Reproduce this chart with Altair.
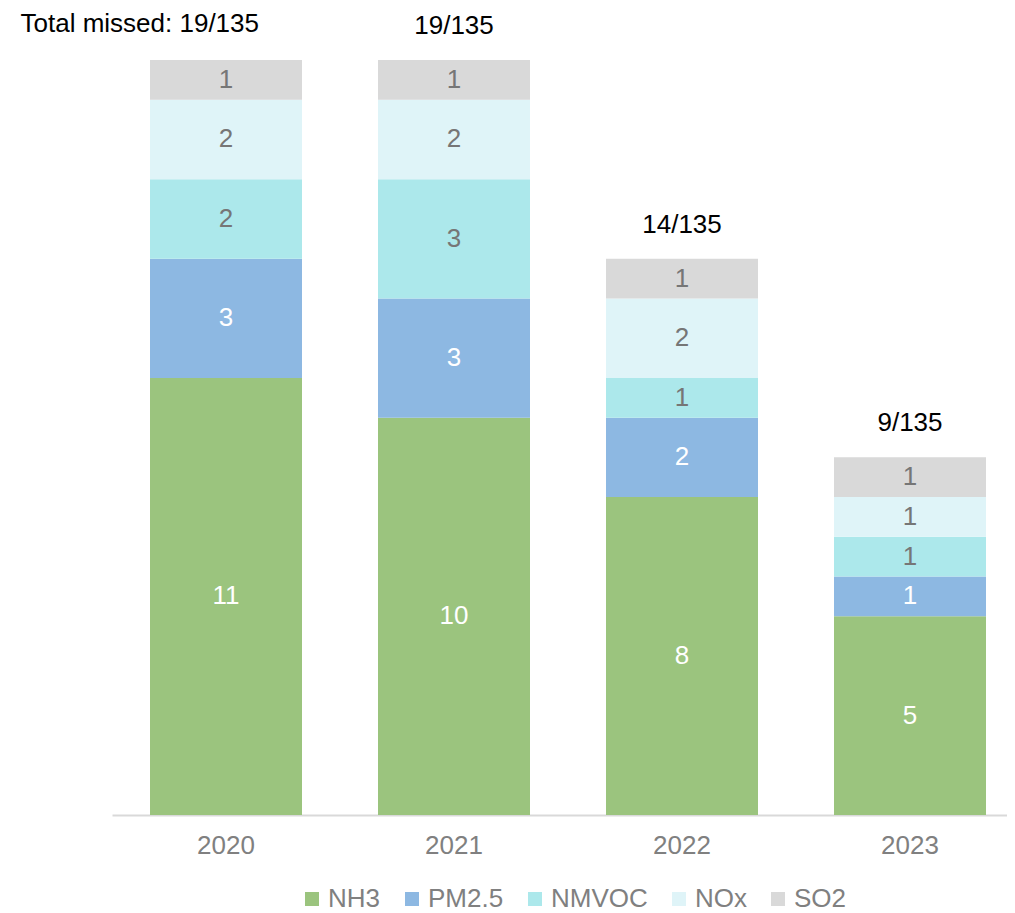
import altair as alt
import pandas as pd

years = ["2020", "2021", "2022", "2023"]
pollutants = ["NH3", "PM2.5", "NMVOC", "NOx", "SO2"]
colors = ["#9BC47E", "#8DB8E2", "#ACE8EB", "#DFF4F8", "#D9D9D9"]
nh3 = [11, 10, 8, 5]
pm25 = [3, 3, 2, 1]
nmvoc = [2, 3, 1, 1]
nox = [2, 2, 2, 1]
so2 = [1, 1, 1, 1]
totals = [19, 19, 14, 9]
total_labels = ["Total missed: 19/135", "19/135", "14/135", "9/135"]

series = [nh3, pm25, nmvoc, nox, so2]
rows = []
for pi, (p, vals) in enumerate(zip(pollutants, series)):
    for y, v in zip(years, vals):
        rows.append({"year": y, "pollutant": p, "value": v, "idx": pi,
                     "light": p in ("NH3", "PM2.5")})
df = pd.DataFrame(rows)
tdf = pd.DataFrame({"year": years, "total": totals, "label": total_labels})

FONT = "Liberation Sans"
FS = 26

x = alt.X("year:N", title=None, sort=years,
          scale=alt.Scale(range=[0, 912], paddingInner=1/3, paddingOuter=1/6),
          axis=alt.Axis(labelAngle=0, labelFontSize=FS, labelColor="#808080",
                        labelFont=FONT, ticks=False, domainColor="#D9D9D9",
                        domainWidth=2, labelPadding=17))
yscale = alt.Scale(domain=[0, 19], nice=False)

bars = alt.Chart(df).mark_bar().encode(
    x=x,
    y=alt.Y("value:Q", stack="zero", scale=yscale, axis=None),
    color=alt.Color("pollutant:N", sort=pollutants,
                    scale=alt.Scale(domain=pollutants, range=colors),
                    legend=alt.Legend(title=None, orient="none", direction="horizontal",
                                      legendX=187, legendY=826, padding=0,
                                      symbolType="square", symbolSize=196,
                                      symbolStrokeWidth=0,
                                      labelFontSize=FS, labelColor="#808080",
                                      labelFont=FONT, columnPadding=18,
                                      labelOffset=3)),
    order=alt.Order("idx:Q", sort="ascending"),
)

seg_text = alt.Chart(df).mark_text(fontSize=FS, font=FONT, baseline="middle").encode(
    x=alt.X("year:N", sort=years),
    y=alt.Y("mid:Q", scale=yscale),
    text=alt.Text("value:Q"),
    color=alt.condition("datum.light", alt.value("#FFFFFF"), alt.value("#767676")),
).transform_stack(
    stack="value", groupby=["year"], as_=["y0", "y1"],
    sort=[alt.SortField("idx", order="ascending")]
).transform_calculate(mid="(datum.y0 + datum.y1) / 2")

tot_text = alt.Chart(tdf).transform_filter("datum.year != '2020'").mark_text(
    fontSize=26, font=FONT, baseline="middle", dy=-34, color="#000000"
).encode(x=alt.X("year:N", sort=years), y=alt.Y("total:Q", scale=yscale), text="label:N")

first_text = alt.Chart(tdf).transform_filter("datum.year == '2020'").mark_text(
    fontSize=26, font=FONT, baseline="middle", dy=-36, dx=33, align="right", color="#000000"
).encode(x=alt.X("year:N", sort=years), y=alt.Y("total:Q", scale=yscale), text="label:N")

chart = alt.layer(bars, seg_text, tot_text, first_text).properties(
    width=895, height=755,
    autosize=alt.AutoSizeParams(type="none"),
    padding={"left": 104, "top": 52, "right": 0, "bottom": 100},
).configure(background="#FFFFFF").configure_view(stroke=None, strokeWidth=0)

chart.save("out.html", embed_options={"renderer": "svg", "actions": False})
